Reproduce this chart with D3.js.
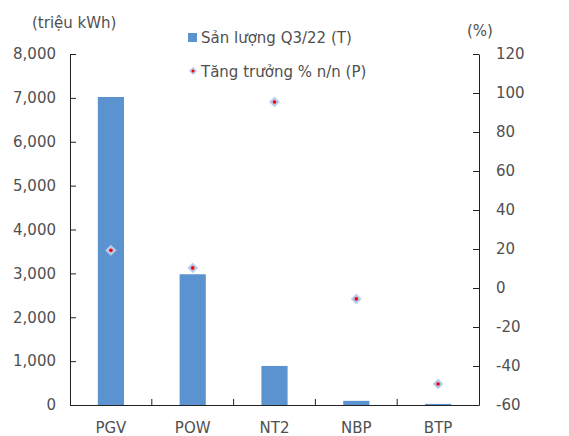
<!DOCTYPE html>
<html><head><meta charset="utf-8">
<script src="https://cdn.jsdelivr.net/npm/d3@7"></script>
<style>body{margin:0;background:#fff;} text{font-family:"DejaVu Sans",sans-serif;fill:#505050;}</style>
</head><body>
<svg id="c" width="569" height="436"></svg>
<script>
const categories = ["PGV","POW","NT2","NBP","BTP"];
const output = [7020, 2980, 890, 95, 25];
const growth = [19.3, 10.3, 95.4, -5.6, -49.2];
const leftTicks = [0,1000,2000,3000,4000,5000,6000,7000,8000];
const rightTicks = [-60,-40,-20,0,20,40,60,80,100,120];

const svg = d3.select("#c");
const L = 70, R = 479, T = 54, B = 405;
const fs = 15;
const tc = "#505050";
const x = d3.scaleBand().domain(categories).range([L,R]).paddingInner(0).paddingOuter(0);
const yL = d3.scaleLinear().domain([0,8000]).range([B,T]);
const yR = d3.scaleLinear().domain([-60,120]).range([B,T]);

// bars
const bw = x.bandwidth()*0.32;
svg.selectAll("rect.bar").data(categories).enter().append("rect")
  .attr("x", d => x(d)+x.bandwidth()/2-bw/2)
  .attr("y", (d,i) => yL(output[i]))
  .attr("width", bw)
  .attr("height", (d,i) => B - yL(output[i]))
  .attr("fill", "#5b93d0");

// left axis
const gl = svg.append("g").attr("transform",`translate(${L},0)`)
  .call(d3.axisLeft(yL).tickValues(leftTicks).tickSizeInner(-6).tickSizeOuter(0).tickPadding(14).tickFormat(d3.format(",")));
gl.select(".domain").attr("stroke","#222");
gl.selectAll(".tick line").attr("stroke","#222");
gl.selectAll("text").style("font-size",fs+"px").attr("fill",tc);

const gr = svg.append("g").attr("transform",`translate(${R},0)`)
  .call(d3.axisRight(yR).tickValues(rightTicks).tickSizeInner(-6).tickSizeOuter(0).tickPadding(17).tickFormat(d => String(d)));
gr.select(".domain").attr("stroke","#222");
gr.selectAll(".tick line").attr("stroke","#222");
gr.selectAll("text").style("font-size",fs+"px").attr("fill",tc);

// x axis
const gx = svg.append("g").attr("transform",`translate(0,${B})`)
  .call(d3.axisBottom(x).tickSize(0).tickPadding(17));
gx.select(".domain").attr("stroke","#222");
gx.selectAll("text").style("font-size",fs+"px").attr("fill",tc);
// boundary ticks
const bounds = categories.slice(1).map(d => x(d));
svg.selectAll("line.bt").data(bounds).enter().append("line")
  .attr("x1",d=>d).attr("x2",d=>d).attr("y1",B).attr("y2",B-6).attr("stroke","#222");

// points
const pts = svg.selectAll("g.pt").data(categories).enter().append("g")
  .attr("transform",(d,i)=>`translate(${x(d)+x.bandwidth()/2},${yR(growth[i])})`);
pts.append("path").attr("d","M0,-5L5,0L0,5L-5,0Z").attr("fill","#b4c9ea").attr("stroke","#c5d6f0").attr("stroke-width",1);
pts.append("circle").attr("r",1.8).attr("fill","#ff0000");

// titles
svg.append("text").attr("x",32).attr("y",28).style("font-size",fs+"px").text("(triệu kWh)");
svg.append("text").attr("x",467).attr("y",36).style("font-size",fs+"px").text("(%)");

// legend
svg.append("rect").attr("x",188).attr("y",33).attr("width",9).attr("height",9).attr("fill","#5b93d0");
svg.append("text").attr("x",201).attr("y",43).style("font-size",fs+"px").text("Sản lượng Q3/22 (T)");
const lg = svg.append("g").attr("transform","translate(193,71)");
lg.append("path").attr("d","M0,-4L4,0L0,4L-4,0Z").attr("fill","#b4c9ea");
lg.append("circle").attr("r",1.5).attr("fill","#ff0000");
svg.append("text").attr("x",201).attr("y",77).style("font-size",fs+"px").text("Tăng trưởng % n/n (P)");
</script>
</body></html>
